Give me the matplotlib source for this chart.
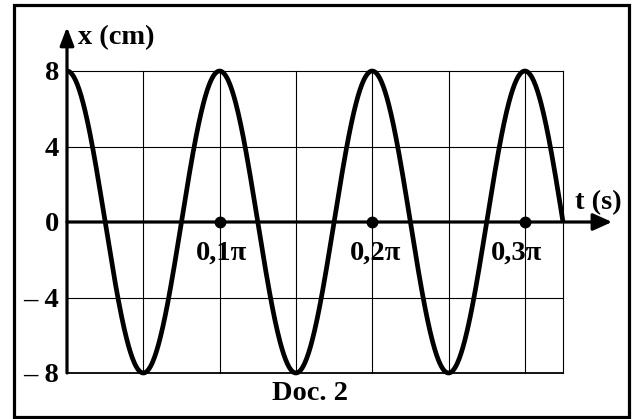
import numpy as np
import matplotlib
matplotlib.use("Agg")
import matplotlib.pyplot as plt
from matplotlib.patches import Rectangle

# ---- data ----
amplitude_cm = 8.0                 # peak value of x
period_s = 0.1 * np.pi             # one full oscillation per 0.1π s
t_end = 0.325 * np.pi              # curve stops at the right edge of the grid
grid_t = [0.05 * np.pi * k for k in range(1, 7)] + [t_end]
grid_x = [-8, -4, 4, 8]
y_ticks = [8, 4, 0, -4, -8]
y_tick_labels = ["8", "4", "0", "\u2013 4", "\u2013 8"]
marked_t = [0.1 * np.pi, 0.2 * np.pi, 0.3 * np.pi]
marked_labels = ["0,1\u03c0", "0,2\u03c0", "0,3\u03c0"]
marked_label_dx = [2, 3, -8]       # pixel offsets of the labels

W, H = 635, 419
fig = plt.figure(figsize=(W / 100, H / 100), dpi=100)
plt.rcParams['font.family'] = ['Liberation Serif', 'DejaVu Serif']

# axes placed so that t=0 -> x px 67, t_end -> 563 ; x=8 -> y px 71, x=-8 -> 373
left_px, right_px, top_px, bot_px = 67, 563, 71, 373
ax = fig.add_axes([left_px / W, (H - bot_px) / H, (right_px - left_px) / W, (bot_px - top_px) / H])
ax.set_xlim(0, t_end)
ax.set_ylim(-8, 8)
ax.axis('off')

px_t = t_end / (right_px - left_px)   # data units per pixel (t)
px_x = 16 / (bot_px - top_px)         # data units per pixel (x)

# grid
for gt in grid_t:
    ax.plot([gt, gt], [-8, 8], color='black', lw=0.8, clip_on=False, zorder=1)
for gx in grid_x:
    ax.plot([0, t_end], [gx, gx], color='black', lw=1.3 if gx == -8 else 0.8,
            clip_on=False, zorder=1)

# axes with arrows
y_tip = 8 + (top_px - 27) * px_x
t_tip = (612 - left_px) * px_t
ax.annotate('', xy=(0, y_tip), xytext=(0, -8),
            arrowprops=dict(arrowstyle='-|>,head_length=11,head_width=4.2',
                            mutation_scale=1, lw=2.3, color='black',
                            shrinkA=0, shrinkB=0), annotation_clip=False, zorder=3)
ax.annotate('', xy=(t_tip, 0), xytext=(0, 0),
            arrowprops=dict(arrowstyle='-|>,head_length=11.5,head_width=5.2',
                            mutation_scale=1, lw=2.3, color='black',
                            shrinkA=0, shrinkB=0), annotation_clip=False, zorder=3)

# curve
t = np.linspace(0, t_end, 800)
x = amplitude_cm * np.cos(2 * np.pi * t / period_s)
ax.plot(t, x, color='black', lw=3.4, clip_on=False, zorder=4, solid_capstyle='butt')

# marked points
ax.plot(marked_t, [0] * len(marked_t), 'o', color='black', ms=7.5, zorder=5, clip_on=False)

fs = 20.5
bold = dict(fontweight='bold', fontsize=fs, color='black')
for tv, lab, dx in zip(marked_t, marked_labels, marked_label_dx):
    ax.text(tv + dx * px_t, -(253 - 222) * px_x, lab, ha='center', va='center', **bold)

for yv, lab in zip(y_ticks, y_tick_labels):
    ax.text(-8 * px_t, yv - 2.5 * px_x, lab, ha='right', va='center', **bold)

ax.text(11 * px_t, 8 + (top_px - 38) * px_x, 'x (cm)', ha='left', va='center', **bold)
ax.text((575 - left_px) * px_t, (222 - 203) * px_x, 't (s)', ha='left', va='center', **bold)
ax.text((310 - left_px) * px_t, -8 - (393 - bot_px) * px_x, 'Doc. 2', ha='center', va='center', **bold)

# outer frame
fig.patches.append(Rectangle((13.5 / W, 2 / H), (629 - 13.5) / W, (417 - 5.5) / H,
                             transform=fig.transFigure, fill=False, lw=2.3,
                             edgecolor='black'))

fig.savefig('out.png', dpi=100)
